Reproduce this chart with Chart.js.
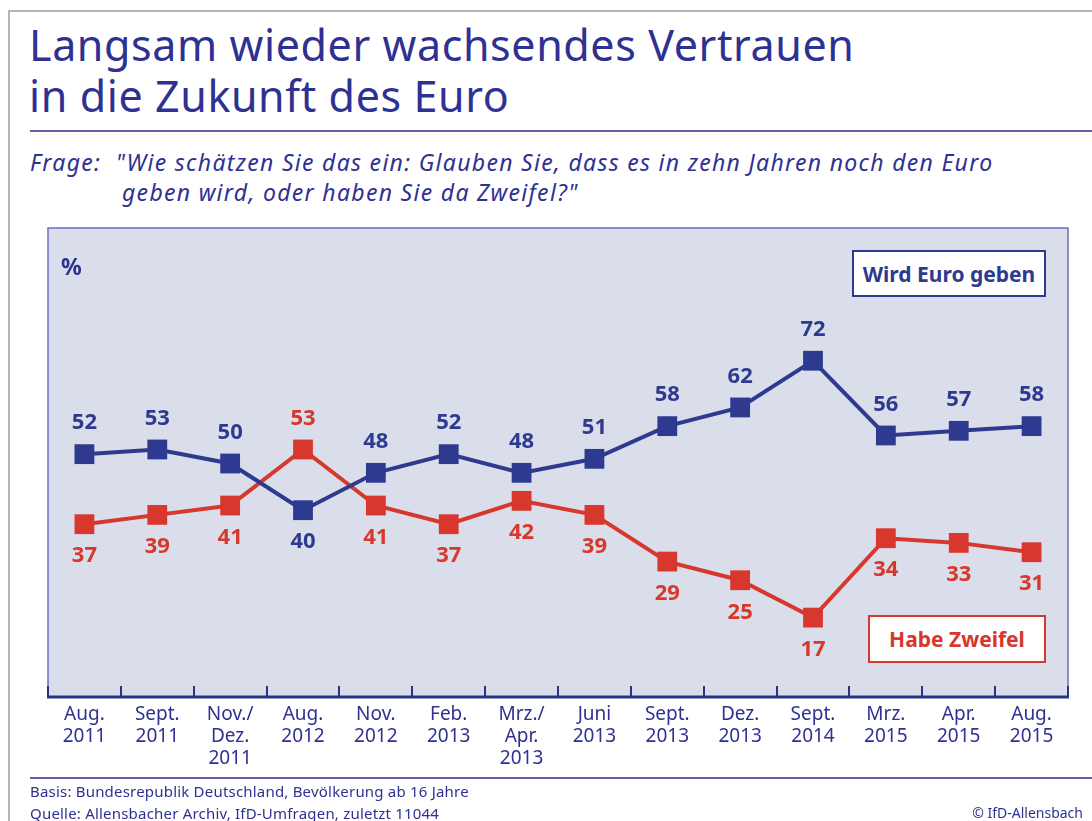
<!DOCTYPE html>
<html lang="de">
<head>
<meta charset="utf-8">
<title>Vertrauen in die Zukunft des Euro</title>
<script src="https://cdn.jsdelivr.net/npm/chart.js@4.4.0/dist/chart.umd.min.js"></script>
<style>
    html, body { margin: 0; padding: 0; background: #fff; }
    body { width: 1092px; height: 821px; position: relative; overflow: hidden; font-family: "Noto Sans", "DejaVu Sans", sans-serif; color: #2e3192; }
    .frame { position: absolute; left: 8px; top: 10px; right: -2px; bottom: -2px; border-left: 2px solid #b4b4b4; border-top: 2px solid #b4b4b4; }
    .title { position: absolute; left: 29px; top: 19px; font-size: 43px; line-height: 51px; font-weight: 400; letter-spacing: 0.6px; white-space: nowrap; }
    .rule { position: absolute; left: 30px; right: 0; height: 0; border-top: 2px solid #5f63ad; }
    .question { position: absolute; left: 30px; top: 147px; font-size: 23px; line-height: 30px; font-style: italic; letter-spacing: 1.3px; white-space: nowrap; }
    .question .l2 { padding-left: 92px; }
    .pct { position: absolute; left: 61px; top: 250px; font-size: 23px; font-weight: 700; }
    .legbox { position: absolute; background: #fff; border: 2px solid; font-weight: 700; font-size: 21px; display: flex; align-items: center; justify-content: center; box-sizing: border-box; }
    .footer { position: absolute; left: 30px; font-size: 15px; letter-spacing: 0.2px; white-space: nowrap; }
    canvas { position: absolute; left: 0; top: 0; }
</style>
</head>
<body>
<div class="frame"></div>
<div class="title">Langsam wieder wachsendes Vertrauen<br>in die Zukunft des Euro</div>
<div class="rule" style="top:130px"></div>
<div class="question">Frage:&nbsp; "Wie schätzen Sie das ein: Glauben Sie, dass es in zehn Jahren noch den Euro<br><span class="l2">geben wird, oder haben Sie da Zweifel?"</span></div>
<canvas id="chart" width="1092" height="821"></canvas>
<div class="pct">%</div>
<div class="legbox" style="left:852px;top:250px;width:194px;height:47px;border-color:#2e3a8f;color:#2e3a8f">Wird Euro geben</div>
<div class="legbox" style="left:868px;top:615px;width:178px;height:48px;border-color:#d7372c;color:#d7372c">Habe Zweifel</div>
<div class="rule" style="top:777px"></div>
<div class="footer" style="top:781px">Basis: Bundesrepublik Deutschland, Bevölkerung ab 16 Jahre</div>
<div class="footer" style="top:803px">Quelle: Allensbacher Archiv, IfD-Umfragen, zuletzt 11044</div>
<div class="footer" style="top:803px;left:auto;right:9px;font-size:14px;letter-spacing:0">© IfD-Allensbach</div>

<script>
    const categories = [
        ['Aug.', '2011'], ['Sept.', '2011'], ['Nov./', 'Dez.', '2011'], ['Aug.', '2012'],
        ['Nov.', '2012'], ['Feb.', '2013'], ['Mrz./', 'Apr.', '2013'], ['Juni', '2013'],
        ['Sept.', '2013'], ['Dez.', '2013'], ['Sept.', '2014'], ['Mrz.', '2015'],
        ['Apr.', '2015'], ['Aug.', '2015']
    ];
    const wirdEuroGeben = [52, 53, 50, 40, 48, 52, 48, 51, 58, 62, 72, 56, 57, 58];
    const habeZweifel = [37, 39, 41, 53, 41, 37, 42, 39, 29, 25, 17, 34, 33, 31];

    const BLUE = '#2e3a8f';
    const RED = '#d7372c';
    const textBlue = '#2e3192';

    // Hintergrund, Rahmen, Achse und Teilstriche
    const plotFrame = {
        id: 'plotFrame',
        beforeDatasetsDraw(chart) {
            const { ctx, chartArea: a, scales: { x } } = chart;
            const top = a.top - 2;
            ctx.save();
            ctx.fillStyle = '#dadeea';
            ctx.fillRect(a.left, top, a.right - a.left, a.bottom - top);
            ctx.strokeStyle = '#6a6fc2';
            ctx.lineWidth = 1.5;
            ctx.beginPath();
            ctx.moveTo(a.left, a.bottom);
            ctx.lineTo(a.left, top);
            ctx.lineTo(a.right, top);
            ctx.lineTo(a.right, a.bottom);
            ctx.stroke();
            ctx.strokeStyle = '#2b3288';
            ctx.lineWidth = 2;
            ctx.beginPath();
            for (let i = 0; i <= categories.length; i++) {
                const px = Math.round(x.getPixelForValue(i - 0.5));
                ctx.moveTo(px, a.bottom);
                ctx.lineTo(px, a.bottom - 11);
            }
            ctx.stroke();
            ctx.lineWidth = 3;
            ctx.beginPath();
            ctx.moveTo(a.left - 1, a.bottom);
            ctx.lineTo(a.right + 1, a.bottom);
            ctx.stroke();
            ctx.restore();
        }
    };

    // Werte an den Punkten: höherer Wert oben, niedrigerer unten
    const valueLabels = {
        id: 'valueLabels',
        afterDatasetsDraw(chart) {
            const { ctx } = chart;
            const sets = chart.data.datasets;
            ctx.save();
            ctx.font = '700 22px "Noto Sans", "DejaVu Sans", sans-serif';
            ctx.textAlign = 'center';
            ctx.textBaseline = 'middle';
            sets.forEach((ds, di) => {
                const other = sets[1 - di].data;
                chart.getDatasetMeta(di).data.forEach((pt, i) => {
                    const above = ds.data[i] >= other[i];
                    ctx.fillStyle = ds.borderColor;
                    ctx.fillText(String(ds.data[i]), pt.x, above ? pt.y - 31 : pt.y + 32);
                });
            });
            ctx.restore();
        }
    };

    new Chart(document.getElementById('chart').getContext('2d'), {
        type: 'line',
        data: {
            labels: categories,
            datasets: [
                {
                    label: 'Wird Euro geben',
                    data: wirdEuroGeben,
                    borderColor: BLUE,
                    backgroundColor: BLUE,
                    borderWidth: 4,
                    pointStyle: 'rect',
                    pointRadius: 14,
                    pointBorderWidth: 0,
                    tension: 0
                },
                {
                    label: 'Habe Zweifel',
                    data: habeZweifel,
                    borderColor: RED,
                    backgroundColor: RED,
                    borderWidth: 4,
                    pointStyle: 'rect',
                    pointRadius: 14,
                    pointBorderWidth: 0,
                    tension: 0
                }
            ]
        },
        options: {
            responsive: false,
            animation: false,
            layout: { padding: { left: 48, right: 24, top: 230, bottom: 54 } },
            plugins: { legend: { display: false }, tooltip: { enabled: false } },
            scales: {
                x: {
                    offset: true,
                    grid: { display: false, drawTicks: false },
                    border: { display: false },
                    afterFit: (scale) => { scale.height = 70; },
                    ticks: {
                        color: textBlue,
                        font: { family: '"Noto Sans", "DejaVu Sans", sans-serif', size: 19, lineHeight: 1.15 },
                        padding: 7,
                        maxRotation: 0,
                        autoSkip: false
                    }
                },
                y: { display: false, min: 0, max: 100 }
            }
        },
        plugins: [plotFrame, valueLabels]
    });
</script>
</body>
</html>
